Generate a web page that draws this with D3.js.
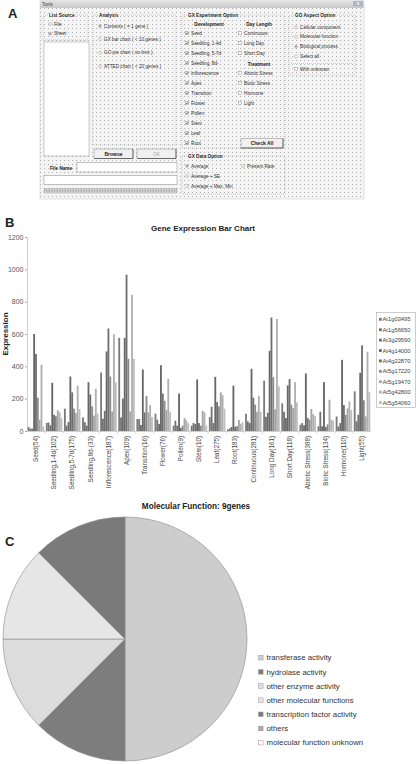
<!DOCTYPE html>
<html><head><meta charset="utf-8">
<script src="https://cdn.jsdelivr.net/npm/d3@7"></script>
<style>body{margin:0;background:#fff}svg{display:block;font-family:"Liberation Sans",Arial,sans-serif}</style>
</head><body><svg id="c" width="417" height="764"></svg>
<script>
// ---------- Panel A (GUI) texts ----------
const listSourceOpts = ["File", "Sheet"];
const analysisOpts = ["Contents ( = 1 gene )", "GX bar chart ( < 10 genes )", "GO pie chart ( no limit )", "ATTED chart ( < 20 genes )"];
const devOpts = ["Seed", "Seedling, 1-4d", "Seedling, 5-7d", "Seedling, 8d-", "Inflorescence", "Apex", "Transition", "Flower", "Pollen", "Stem", "Leaf", "Root"];
const dayOpts = ["Continuous", "Long Day", "Short Day"];
const treatOpts = ["Abiotic Stress", "Biotic Stress", "Hormone", "Light"];
const dataOpts = ["Average", "Average + SE", "Average + Max, Min"];
const goOpts = ["Cellular component", "Molecular function", "Biological process", "Select all"];

// ---------- Panel B data ----------
const categories = ["Seed(54)", "Seedling,1-4d(102)", "Seedling,5-7d(175)", "Seedling,8d-(33)", "Inflorescence(187)", "Apex(109)", "Transition(16)", "Flower(76)", "Pollen(9)", "Stem(10)", "Leaf(275)", "Root(183)", "Continuous(281)", "Long Day(161)", "Short Day(118)", "Abiotic Stress(388)", "Biotic Stress(134)", "Hormone(110)", "Light(55)"];
const genes = ["At1g03495", "At1g56650", "At3g29590", "At4g14000", "At4g22870", "At5g17220", "At5g19470", "At5g42800", "At5g54060"];
const At1g03495 = [25, 50, 138, 84, 362, 576, 74, 107, 33, 33, 86, 10, 107, 311, 171, 39, 29, 90, 245];
const At1g56650 = [15, 52, 33, 55, 76, 84, 74, 70, 64, 49, 150, 16, 60, 88, 119, 49, 119, 28, 60];
const At3g29590 = [15, 35, 55, 33, 125, 200, 37, 43, 33, 43, 49, 25, 49, 113, 80, 35, 29, 49, 100];
const At4g14000 = [600, 298, 337, 302, 492, 576, 381, 407, 232, 319, 335, 280, 385, 496, 282, 356, 302, 440, 360];
const At4g22870 = [477, 100, 239, 226, 634, 967, 115, 232, 19, 49, 179, 27, 206, 702, 321, 80, 25, 160, 530];
const At5g17220 = [206, 92, 138, 152, 337, 446, 216, 187, 33, 33, 152, 30, 163, 333, 163, 70, 41, 100, 190];
const At5g19470 = [70, 128, 111, 95, 121, 121, 115, 130, 80, 125, 239, 68, 119, 134, 142, 136, 193, 140, 90];
const At5g42800 = [410, 115, 280, 261, 599, 842, 160, 323, 66, 115, 222, 45, 218, 693, 302, 105, 70, 183, 490];
const At5g54060 = [29, 80, 136, 107, 300, 446, 86, 119, 49, 33, 138, 55, 119, 276, 177, 91, 64, 130, 240];
const seriesValues = [At1g03495, At1g56650, At3g29590, At4g14000, At4g22870, At5g17220, At5g19470, At5g42800, At5g54060];
const yTicks = [0, 200, 400, 600, 800, 1000, 1200];

// ---------- Panel C data ----------
const goTerms = ["transferase activity", "hydrolase activity", "other enzyme activity", "other molecular functions", "transcription factor activity", "others", "molecular function unknown"];
const goCounts = [4, 1, 1, 1, 1, 0, 0];

const barColors = ["#7a7a7a", "#737373", "#6e6e6e", "#676767", "#6f6f6f", "#8a8a8a", "#a4a4a4", "#b0b0b0", "#bdbdbd"];
const pieColors = ["#cdcdcd", "#7d7d7d", "#dcdcdc", "#e6e6e6", "#7a7a7a", "#ababab", "#ffffff"];

const svg = d3.select("#c");

// Panel letters
[["A", 8, 18], ["B", 5, 227], ["C", 5, 546]].forEach(([t, x, y]) =>
  svg.append("text").attr("x", x).attr("y", y).attr("font-size", 13).attr("font-weight", "bold").attr("fill", "#222").text(t));

// =================== Panel A ===================
const defs = svg.append("defs");
const pat = defs.append("pattern").attr("id", "dots").attr("width", 4).attr("height", 4).attr("patternUnits", "userSpaceOnUse");
pat.append("rect").attr("width", 4).attr("height", 4).attr("fill", "#f4f4f4");
pat.append("rect").attr("width", 1).attr("height", 1).attr("fill", "#b0b0b0");
const grad = defs.append("linearGradient").attr("id", "tbar").attr("x1", 0).attr("x2", 0).attr("y1", 0).attr("y2", 1);
grad.append("stop").attr("offset", 0).attr("stop-color", "#e6e6e6");
grad.append("stop").attr("offset", 1).attr("stop-color", "#c9c9c9");

const A = svg.append("g");
const GUI_FS = 4.7;
const GUI_COL = "#333";
A.append("rect").attr("x", 40).attr("y", 0).attr("width", 324).attr("height", 199).attr("fill", "url(#dots)").attr("stroke", "#c8c8c8").attr("stroke-width", 0.5);
A.append("rect").attr("x", 40).attr("y", 0).attr("width", 324).attr("height", 8).attr("fill", "url(#tbar)");
A.append("text").attr("x", 42).attr("y", 5.5).attr("font-size", 4.6).attr("fill", "#444").text("Tools");
A.append("rect").attr("x", 353).attr("y", 1).attr("width", 10).attr("height", 5.5).attr("fill", "#b0b6bf").attr("rx", 1);
A.append("text").attr("x", 358).attr("y", 5.4).attr("text-anchor", "middle").attr("font-size", 4.5).attr("fill", "#fff").attr("font-weight", "bold").text("x");

function groupBox(x, y, w, h, title) {
  A.append("rect").attr("x", x).attr("y", y).attr("width", w).attr("height", h)
    .attr("fill", "none").attr("stroke", "#a9a9a9").attr("stroke-width", 0.6).attr("stroke-dasharray", "1,1");
  const t = A.append("text").attr("x", x + 6).attr("y", y + 1.6).attr("font-size", GUI_FS).attr("font-weight", "bold").attr("fill", "#222").text(title);
  const bb = t.node().getBBox();
  A.insert("rect", () => t.node()).attr("x", bb.x - 1).attr("y", bb.y).attr("width", bb.width + 2).attr("height", bb.height).attr("fill", "#f4f4f4");
}
function radio(x, y, label, on) {
  A.append("circle").attr("cx", x).attr("cy", y - 1.5).attr("r", 1.5).attr("fill", "#fff").attr("stroke", "#777").attr("stroke-width", 0.4);
  if (on) A.append("circle").attr("cx", x).attr("cy", y - 1.5).attr("r", 0.7).attr("fill", "#333");
  A.append("text").attr("x", x + 4).attr("y", y).attr("font-size", GUI_FS).attr("fill", GUI_COL).text(label);
}
function check(x, y, label, on) {
  A.append("rect").attr("x", x - 1.5).attr("y", y - 3.2).attr("width", 3.2).attr("height", 3.2).attr("fill", "#fff").attr("stroke", "#777").attr("stroke-width", 0.4);
  if (on) A.append("path").attr("d", `M${x - 0.9},${y - 1.7} L${x - 0.1},${y - 0.7} L${x + 1.1},${y - 2.7}`).attr("fill", "none").attr("stroke", "#222").attr("stroke-width", 0.6);
  A.append("text").attr("x", x + 4).attr("y", y).attr("font-size", GUI_FS).attr("fill", GUI_COL).text(label);
}
function button(x, y, w, h, label, enabled) {
  A.append("rect").attr("x", x).attr("y", y).attr("width", w).attr("height", h).attr("fill", "#f0f0f0").attr("stroke", "#888").attr("stroke-width", 0.5);
  A.append("line").attr("x1", x + w).attr("x2", x + w).attr("y1", y).attr("y2", y + h).attr("stroke", "#444").attr("stroke-width", 0.7);
  A.append("line").attr("x1", x).attr("x2", x + w).attr("y1", y + h).attr("y2", y + h).attr("stroke", "#444").attr("stroke-width", 0.7);
  A.append("text").attr("x", x + w / 2).attr("y", y + h / 2 + 1.8).attr("text-anchor", "middle").attr("font-size", 5).attr("font-weight", enabled ? "bold" : "normal").attr("fill", enabled ? "#222" : "#aaa").text(label);
}

// List Source
groupBox(43, 15, 45, 25, "List Source");
listSourceOpts.forEach((o, i) => radio(50, 25.5 + i * 9.7, o, i === 1));
A.append("rect").attr("x", 44).attr("y", 42).attr("width", 45).attr("height", 114).attr("fill", "#fff").attr("stroke", "#999").attr("stroke-width", 0.5);
// Analysis
groupBox(93, 15, 83, 130, "Analysis");
analysisOpts.forEach((o, i) => radio(100, 27.5 + i * 13.4, o, i === 0));
button(94, 149, 39, 9.5, "Browse", true);
button(137, 149, 39, 9.5, "OK", false);
A.append("text").attr("x", 50).attr("y", 169.5).attr("font-size", GUI_FS).attr("font-weight", "bold").attr("fill", "#222").text("File Name");
A.append("rect").attr("x", 77).attr("y", 162.5).attr("width", 100).attr("height", 9.5).attr("fill", "#fff").attr("stroke", "#888").attr("stroke-width", 0.5);
A.append("rect").attr("x", 44).attr("y", 175.5).attr("width", 133).attr("height", 9).attr("fill", "#fff").attr("stroke", "#888").attr("stroke-width", 0.5);
A.append("rect").attr("x", 44).attr("y", 188.5).attr("width", 133).attr("height", 4.5).attr("fill", "#e8e8e8").attr("stroke", "#888").attr("stroke-width", 0.4);
A.append("g").selectAll("rect").data(d3.range(0, 132, 1.6)).join("rect")
  .attr("x", d => 44.5 + d).attr("y", 189.2).attr("width", 0.8).attr("height", 3.1).attr("fill", "#9a9a9a");

// GX Experiment Option
groupBox(182, 15, 103, 133, "GX Experiment Option");
A.append("text").attr("x", 209).attr("y", 25.8).attr("text-anchor", "middle").attr("font-size", GUI_FS).attr("font-weight", "bold").attr("fill", "#222").text("Development");
devOpts.forEach((o, i) => check(187, 34.8 + i * 10, o, true));
A.append("text").attr("x", 259).attr("y", 25.8).attr("text-anchor", "middle").attr("font-size", GUI_FS).attr("font-weight", "bold").attr("fill", "#222").text("Day Length");
dayOpts.forEach((o, i) => check(240, 34.8 + i * 10, o, false));
A.append("text").attr("x", 259).attr("y", 65.8).attr("text-anchor", "middle").attr("font-size", GUI_FS).attr("font-weight", "bold").attr("fill", "#222").text("Treatment");
treatOpts.forEach((o, i) => check(240, 74.8 + i * 10, o, false));
button(241, 138.5, 42, 9.5, "Check All", true);

// GX Data Option
groupBox(182, 156, 103, 38, "GX Data Option");
dataOpts.forEach((o, i) => radio(187, 167.5 + i * 10, o, i === 0));
radio(243, 167.5, "Present Rate", false);

// GO Aspect Option
groupBox(289, 15, 66, 60, "GO Aspect Option");
goOpts.forEach((o, i) => radio(296, 28.5 + i * 9.8, o, i === 2));
A.append("line").attr("x1", 291).attr("x2", 353).attr("y1", 63.5).attr("y2", 63.5).attr("stroke", "#aaa").attr("stroke-width", 0.5).attr("stroke-dasharray", "1,1");
check(296, 70.8, "With unknown", false);

// =================== Panel B ===================
const B = svg.append("g");
const x0 = d3.scaleBand().domain(categories).range([27, 371]).paddingInner(0.09).paddingOuter(0.04);
const x1 = d3.scaleBand().domain(genes).range([0, x0.bandwidth()]);
const y = d3.scaleLinear().domain([0, 1200]).range([431, 237]);

B.append("text").attr("x", 203).attr("y", 231).attr("text-anchor", "middle").attr("font-size", 8).attr("font-weight", "bold").attr("fill", "#222").text("Gene Expression Bar Chart");

const yAxis = B.append("g").attr("transform", "translate(27,0)")
  .call(d3.axisLeft(y).tickValues(yTicks).tickFormat(d3.format("d")).tickSize(2).tickPadding(1.5));
yAxis.select(".domain").attr("stroke", "#c4c4c4").attr("stroke-width", 0.8);
yAxis.selectAll(".tick line").attr("stroke", "#aaa");
yAxis.selectAll(".tick text").attr("font-size", 7).attr("fill", "#555").attr("font-family", "Liberation Sans, Arial, sans-serif");

B.append("text").attr("transform", "translate(8,334) rotate(-90)").attr("text-anchor", "middle").attr("font-size", 8).attr("font-weight", "bold").attr("fill", "#222").text("Expression");

// bars
genes.forEach((g, gi) => {
  B.append("g").selectAll("rect").data(seriesValues[gi]).join("rect")
    .attr("x", (d, i) => x0(categories[i]) + x1(g))
    .attr("y", d => y(d))
    .attr("width", x1.bandwidth())
    .attr("height", d => y(0) - y(d))
    .attr("fill", barColors[gi]);
});

// x axis baseline, boundary ticks, labels
B.append("line").attr("x1", 27).attr("x2", 371).attr("y1", 431.5).attr("y2", 431.5).attr("stroke", "#c4c4c4").attr("stroke-width", 0.8);
const step = x0.step();
B.append("g").selectAll("line").data(categories.slice(1)).join("line")
  .attr("x1", d => x0(d) - step * x0.paddingInner() / 2).attr("x2", d => x0(d) - step * x0.paddingInner() / 2)
  .attr("y1", 431.5).attr("y2", 434).attr("stroke", "#c4c4c4").attr("stroke-width", 0.6);
B.append("g").selectAll("text").data(categories).join("text")
  .attr("transform", d => `translate(${x0(d) + x0.bandwidth() / 2 + 2.2},436) rotate(-90)`)
  .attr("text-anchor", "end").attr("font-size", 6.3).attr("fill", "#444").text(d => d);

// legend
const LB = B.append("g");
LB.append("rect").attr("x", 376.5).attr("y", 312.5).attr("width", 39).attr("height", 95).attr("fill", "#fff").attr("stroke", "#999").attr("stroke-width", 0.5);
genes.forEach((g, i) => {
  const yy = 319.5 + i * 10.4;
  LB.append("rect").attr("x", 379).attr("y", yy - 1.6).attr("width", 2.8).attr("height", 2.8).attr("fill", barColors[i]);
  LB.append("text").attr("x", 382.5).attr("y", yy + 1.9).attr("font-size", 5.8).attr("fill", "#444").text(g);
});

// =================== Panel C ===================
const C = svg.append("g");
C.append("text").attr("x", 196).attr("y", 509).attr("text-anchor", "middle").attr("font-size", 8.2).attr("font-weight", "bold").attr("fill", "#222").text("Molecular Function: 9genes");
const pie = d3.pie().sort(null).value(d => d)(goCounts);
const arc = d3.arc().innerRadius(0).outerRadius(122);
C.append("g").attr("transform", "translate(125,639)").selectAll("path").data(pie.filter(p => p.value > 0)).join("path")
  .attr("d", arc).attr("fill", d => pieColors[d.index]).attr("stroke", "#8c8c8c").attr("stroke-width", 0.6);

goTerms.forEach((t, i) => {
  const yy = 657.7 + i * 14.15;
  C.append("rect").attr("x", 258.5).attr("y", yy - 2.3).attr("width", 4.6).attr("height", 4.6).attr("fill", pieColors[i]).attr("stroke", "#999").attr("stroke-width", 0.5);
  C.append("text").attr("x", 266.5).attr("y", yy + 2.7).attr("font-size", 7.8).attr("fill", "#333").text(t);
});
</script></body></html>
